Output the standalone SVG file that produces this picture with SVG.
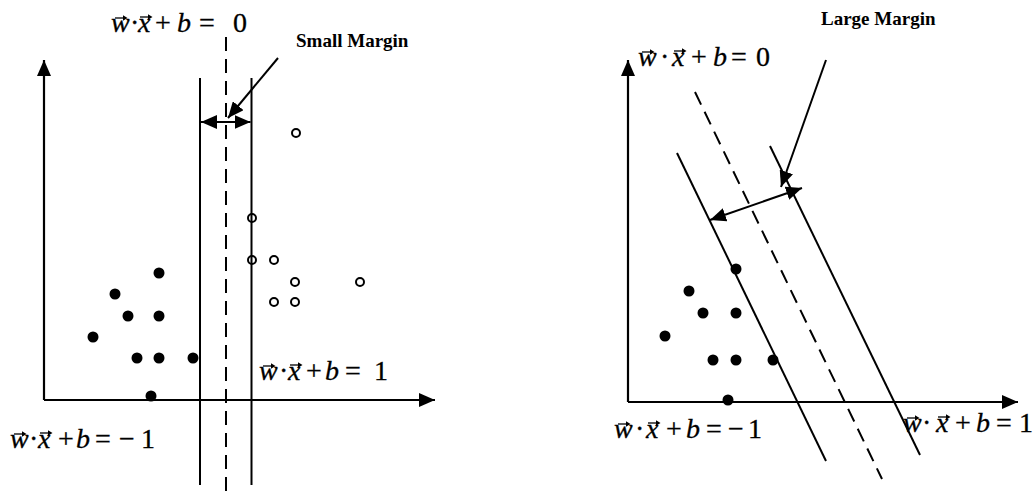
<svg xmlns="http://www.w3.org/2000/svg" xmlns:xlink="http://www.w3.org/1999/xlink" width="1036" height="497" viewBox="0 0 1036 497">
<style>
.ax{stroke:#000;stroke-width:2.2;fill:none}
.ln{stroke:#000;stroke-width:2;fill:none}
.dash{stroke:#000;stroke-width:2;fill:none;stroke-dasharray:14 8}
.arw{stroke:#000;stroke-width:2;fill:none}
.dot{fill:#000}
.ring{fill:none;stroke:#000;stroke-width:2}
.eq{font-family:"Liberation Serif","Times New Roman",serif;font-size:28px;fill:#000;stroke:#000;stroke-width:0.3}
.i{font-style:italic}
.lbl{font-family:"Liberation Serif","Times New Roman",serif;font-size:19px;font-weight:bold;fill:#000}
.vec{stroke:#000;stroke-width:1.3;fill:#000}
</style>
<defs>
<marker id="ah" viewBox="0 0 16 14" refX="16" refY="7" markerWidth="16" markerHeight="14" markerUnits="userSpaceOnUse" orient="auto-start-reverse">
<path d="M0,0 L16,7 L0,14 z" fill="#000"/>
</marker>
<g id="vec">
<path class="vec" d="M0,0 H9" fill="none"/>
<path d="M8,-2.7 L12.5,0 L8,2.7 z" fill="#000"/>
</g>
</defs>

<g id="left-plot">
<g id="left-axes">
<path class="ax" d="M44,400 V60" marker-end="url(#ah)"/>
<path class="ax" d="M44,400 H435" marker-end="url(#ah)"/>
</g>
<g id="left-boundaries">
<path class="ln" d="M200,78 V485"/>
<path class="ln" d="M251.5,78 V485"/>
<path class="dash" d="M226,37 V497"/>
</g>
<g id="left-negative">
<circle class="dot" cx="159" cy="273" r="5.5"/>
<circle class="dot" cx="115" cy="294" r="5.5"/>
<circle class="dot" cx="128" cy="316" r="5.5"/>
<circle class="dot" cx="159" cy="316" r="5.5"/>
<circle class="dot" cx="93" cy="337" r="5.5"/>
<circle class="dot" cx="137" cy="358" r="5.5"/>
<circle class="dot" cx="159" cy="358" r="5.5"/>
<circle class="dot" cx="193" cy="358" r="5.5"/>
<circle class="dot" cx="151" cy="396" r="5.5"/>
</g>
<g id="left-positive">
<circle class="ring" cx="296" cy="133" r="4"/>
<circle class="ring" cx="252" cy="218" r="4"/>
<circle class="ring" cx="252" cy="260" r="4"/>
<circle class="ring" cx="274" cy="260" r="4"/>
<circle class="ring" cx="295" cy="282" r="4"/>
<circle class="ring" cx="360" cy="282" r="4"/>
<circle class="ring" cx="274" cy="302" r="4"/>
<circle class="ring" cx="295" cy="302" r="4"/>
</g>
<g id="left-connectors">
<path class="arw" d="M201,122 H250.5" marker-start="url(#ah)" marker-end="url(#ah)"/>
<path class="arw" d="M278,58 L228,118" marker-end="url(#ah)"/>
</g>
<g id="left-labels">
<text class="lbl" x="296" y="47">Small Margin</text>
<text class="eq" y="32"><tspan class="i" x="111">w</tspan><tspan x="130">·</tspan><tspan class="i" x="138">x</tspan><tspan x="155">+</tspan><tspan class="i" x="177">b</tspan><tspan x="199">=</tspan><tspan x="233">0</tspan></text>
<use href="#vec" x="115" y="18"/>
<use href="#vec" x="140" y="17"/>
<text class="eq" y="380"><tspan class="i" x="259">w</tspan><tspan x="279">·</tspan><tspan class="i" x="288">x</tspan><tspan x="306">+</tspan><tspan class="i" x="325">b</tspan><tspan x="345">=</tspan><tspan x="374">1</tspan></text>
<use href="#vec" x="263" y="366"/>
<use href="#vec" x="290" y="365"/>
<text class="eq" y="448"><tspan class="i" x="10">w</tspan><tspan x="29">·</tspan><tspan class="i" x="38">x</tspan><tspan x="58">+</tspan><tspan class="i" x="76">b</tspan><tspan x="95">=</tspan><tspan x="119">−</tspan><tspan x="141">1</tspan></text>
<use href="#vec" x="14" y="434"/>
<use href="#vec" x="40" y="433"/>
</g>
</g>

<g id="right-plot">
<g id="right-axes">
<path class="ax" d="M628,402 V60" marker-end="url(#ah)"/>
<path class="ax" d="M628,402 H1018" marker-end="url(#ah)"/>
</g>
<g id="right-boundaries">
<path class="ln" d="M677,153 L826,461"/>
<path class="dash" d="M695,92 L882,479"/>
<path class="ln" d="M770,146 L920,455"/>
</g>
<g id="right-negative">
<circle class="dot" cx="736" cy="269" r="5.5"/>
<circle class="dot" cx="689" cy="291" r="5.5"/>
<circle class="dot" cx="703" cy="313" r="5.5"/>
<circle class="dot" cx="736" cy="313" r="5.5"/>
<circle class="dot" cx="665" cy="336" r="5.5"/>
<circle class="dot" cx="713" cy="360" r="5.5"/>
<circle class="dot" cx="736" cy="360" r="5.5"/>
<circle class="dot" cx="773" cy="360" r="5.5"/>
<circle class="dot" cx="728" cy="400" r="5.5"/>
</g>
<g id="right-connectors">
<path class="arw" d="M710,220 L802,188" marker-start="url(#ah)" marker-end="url(#ah)"/>
<path class="arw" d="M826,60 L781,187" marker-end="url(#ah)"/>
</g>
<g id="right-labels">
<text class="lbl" x="821" y="25">Large Margin</text>
<text class="eq" y="66"><tspan class="i" x="638">w</tspan><tspan x="660">·</tspan><tspan class="i" x="672">x</tspan><tspan x="691">+</tspan><tspan class="i" x="713">b</tspan><tspan x="731">=</tspan><tspan x="756">0</tspan></text>
<use href="#vec" x="642" y="52"/>
<use href="#vec" x="674" y="51"/>
<text class="eq" y="438"><tspan class="i" x="614">w</tspan><tspan x="635">·</tspan><tspan class="i" x="646">x</tspan><tspan x="666">+</tspan><tspan class="i" x="686">b</tspan><tspan x="706">=</tspan><tspan x="728">−</tspan><tspan x="748">1</tspan></text>
<use href="#vec" x="618" y="424"/>
<use href="#vec" x="648" y="423"/>
<text class="eq" y="432"><tspan class="i" x="903">w</tspan><tspan x="922">·</tspan><tspan class="i" x="936">x</tspan><tspan x="955">+</tspan><tspan class="i" x="976">b</tspan><tspan x="996">=</tspan><tspan x="1019">1</tspan></text>
<use href="#vec" x="907" y="418"/>
<use href="#vec" x="938" y="417"/>
</g>
</g>
</svg>
